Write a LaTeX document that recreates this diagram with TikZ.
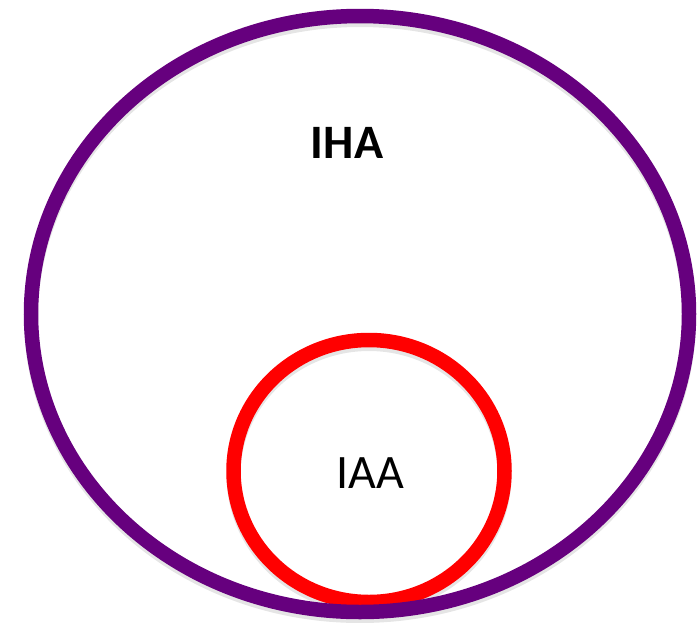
\documentclass[tikz,border=0pt]{standalone}
\usepackage{fontspec}
\setmainfont{Carlito}
\definecolor{ihapurple}{RGB}{102,0,126}
\definecolor{iaared}{RGB}{255,0,0}
\begin{document}
\begin{tikzpicture}[x=1pt,y=-1pt,
  ring/.style={line width=14.5pt},
  ringshadow/.style={line width=14pt, draw=black, opacity=0.10},
  lbl/.style={inner sep=0pt, anchor=center}]
\useasboundingbox (0,0) rectangle (697,622);
% shadows
\draw[ringshadow] (369,475) ellipse [x radius=135.5, y radius=131];
\draw[ringshadow] (360,318) ellipse [x radius=329, y radius=298];
% rings
\draw[ring, draw=iaared] (369,471) ellipse [x radius=135.5, y radius=131];
\draw[ring, draw=ihapurple] (360,314) ellipse [x radius=329, y radius=298];
% labels
\node[lbl] (iha) at (347,143) {\fontsize{48}{48}\selectfont\bfseries IHA};
\node[lbl] (iaa) at (370,473) {\fontsize{48}{48}\selectfont IAA};
\end{tikzpicture}
\end{document}
